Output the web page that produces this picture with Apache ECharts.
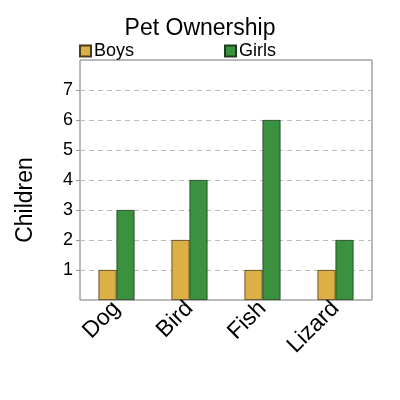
<!DOCTYPE html>
<html>
<head>
<meta charset="utf-8">
<script src="https://cdn.jsdelivr.net/npm/echarts@6/dist/echarts.min.js"></script>
<style>
  html, body { margin: 0; padding: 0; background: #fff; }
  #chart { width: 400px; height: 400px; }
</style>
</head>
<body>
<div id="chart"></div>
<script>
// data
const pets = ['Dog', 'Bird', 'Fish', 'Lizard'];
const boys = [1, 2, 1, 1];
const girls = [3, 4, 6, 2];
const yTicks = [1, 2, 3, 4, 5, 6, 7];

const chart = echarts.init(document.getElementById('chart'));

const option = {
    animation: false,
    title: {
        text: 'Pet Ownership',
        left: 'center',
        top: 12,
        textStyle: { fontFamily: 'Liberation Sans', fontSize: 23, fontWeight: 'normal', color: '#000' }
    },
    legend: {
        data: ['Boys', 'Girls'],
        left: 74,
        top: 37,
        itemWidth: 11,
        itemHeight: 11,
        itemGap: 90,
        icon: 'rect',
        textStyle: { fontFamily: 'Liberation Sans', fontSize: 18, color: '#000', padding: [0, 0, 0, -2] }
    },
    grid: {
        left: 80,
        right: 28,
        top: 60,
        bottom: 100,
        show: true,
        borderColor: '#777',
        borderWidth: 1
    },
    // axis title sits lower than the axis middle in the reference
    graphic: [{
        type: 'text',
        x: 26,
        y: 200,
        rotation: Math.PI / 2,
        style: {
            text: 'Children',
            font: '23px "Liberation Sans"',
            fill: '#000',
            align: 'center',
            verticalAlign: 'middle'
        }
    }],
    xAxis: {
        type: 'category',
        data: pets,
        axisLine: { show: false },
        axisTick: { show: false },
        axisLabel: {
            rotate: 45,
            fontFamily: 'Liberation Sans',
            fontSize: 23,
            color: '#000',
            margin: 5
        }
    },
    yAxis: {
        type: 'value',
        min: 0,
        max: 8,
        interval: 1,
        axisLine: { show: false },
        axisTick: { show: true, length: 4, customValues: yTicks, lineStyle: { color: '#999' } },
        axisLabel: {
            fontFamily: 'Liberation Sans',
            fontSize: 18,
            color: '#000',
            margin: 7,
            customValues: yTicks
        },
        splitLine: {
            lineStyle: { type: [5, 4], color: '#bbb', width: 1.2 }
        }
    },
    series: [
        {
            name: 'Boys',
            type: 'bar',
            data: boys,
            barWidth: 18,
            barGap: '0%',
            itemStyle: { color: '#ddb045', borderColor: '#4a3a1a', borderWidth: 0.8 }
        },
        {
            name: 'Girls',
            type: 'bar',
            data: girls,
            barWidth: 18,
            itemStyle: { color: '#3a9140', borderColor: '#1d3d1d', borderWidth: 0.8 }
        }
    ]
};

chart.setOption(option);
</script>
</body>
</html>
